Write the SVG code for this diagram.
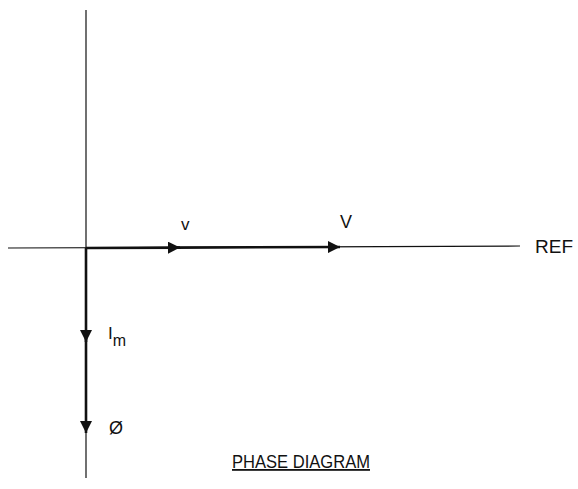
<svg xmlns="http://www.w3.org/2000/svg" width="578" height="489" viewBox="0 0 578 489">
<style>
.t{font-family:"Liberation Sans",Arial,sans-serif;fill:#111}
.thin{stroke:#111;stroke-width:1.2;fill:none}
.thick{stroke:#111;stroke-width:2.6;fill:none}
</style>
<defs>
<marker id="ah" viewBox="0 0 10 10" refX="10" refY="5" markerWidth="16" markerHeight="12" markerUnits="userSpaceOnUse" orient="auto">
<path d="M0,0 L10,5 L0,10 Z" fill="#111"/>
</marker>
</defs>
<rect width="578" height="489" fill="#fff"/>
<g id="connectors">
<line class="thin" x1="86" y1="10" x2="86" y2="478"/>
<line class="thin" x1="8" y1="248" x2="520" y2="246"/>
<line class="thick" x1="86" y1="248" x2="180" y2="247.6" marker-end="url(#ah)"/>
<line class="thick" x1="175" y1="247.6" x2="340" y2="247" marker-end="url(#ah)"/>
<line class="thick" x1="86" y1="248" x2="86" y2="342" marker-end="url(#ah)"/>
<line class="thick" x1="86" y1="338" x2="86" y2="433" marker-end="url(#ah)"/>
</g>
<g id="label-v"><text class="t" x="181" y="230" font-size="17">v</text></g>
<g id="label-V"><text class="t" x="340" y="228" font-size="18">V</text></g>
<g id="label-REF"><text class="t" x="535" y="253" font-size="19">REF</text></g>
<g id="label-Im"><text class="t" x="108" y="339" font-size="17">I<tspan font-size="16" dy="7">m</tspan></text></g>
<g id="label-phi"><text class="t" x="109" y="434" font-size="18">Ø</text></g>
<g id="title"><text class="t" x="232" y="468" font-size="18" textLength="138" lengthAdjust="spacingAndGlyphs" text-decoration="underline">PHASE DIAGRAM</text></g>
</svg>
